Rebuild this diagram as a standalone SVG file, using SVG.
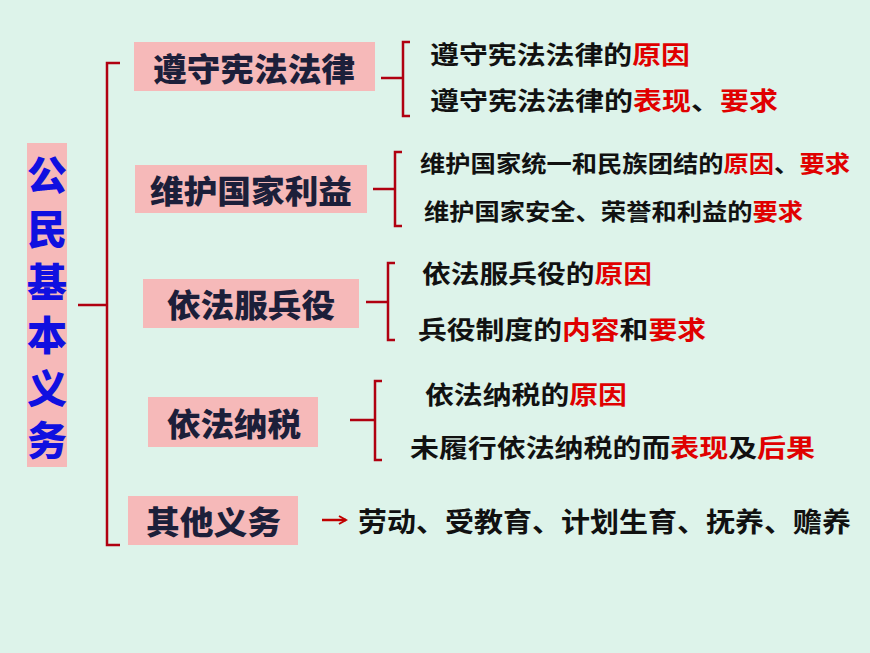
<svg xmlns="http://www.w3.org/2000/svg" width="870" height="653" viewBox="0 0 870 653">
<style>
.box{fill:#F6B9B9}
.bt{font-family:"Noto Sans CJK SC",sans-serif;font-weight:900;font-size:32px;fill:#1c1f3a;dominant-baseline:central}
.t{font-family:"Noto Sans CJK SC",sans-serif;font-weight:700;fill:#111;dominant-baseline:central}
.r{fill:#E00000}
.br{fill:none;stroke:#B00010;stroke-width:2.5}
</style>
<defs><marker id="ah" markerWidth="10" markerHeight="10" refX="8" refY="5" orient="auto" markerUnits="userSpaceOnUse"><path d="M1,1 L8,5 L1,9" fill="none" stroke="#C00000" stroke-width="2"/></marker></defs>
<rect width="870" height="653" fill="#DDF3EA"/>
<g id="root"><rect class="box" x="27" y="143" width="40" height="324"/>
<text font-family="Noto Sans CJK SC,sans-serif" font-weight="900" font-size="40" fill="#1010E0" text-anchor="middle" dominant-baseline="central"><tspan x="47" y="173">公</tspan><tspan x="47" y="227">民</tspan><tspan x="47" y="280">基</tspan><tspan x="47" y="333">本</tspan><tspan x="47" y="386">义</tspan><tspan x="47" y="438">务</tspan></text></g>
<g id="connectors">
<path class="br" d="M120,63 H107 V545 H120 M107,305 H78"/>
<path class="br" d="M410,42 H403 V116 H410 M403,78 H381"/>
<path class="br" d="M402,152 H395 V226 H402 M395,189 H373"/>
<path class="br" d="M395,263 H388 V340 H395 M388,302 H366"/>
<path class="br" d="M382,381 H375 V460 H382 M375,420 H350"/>
<line x1="322" y1="520" x2="346" y2="520" stroke="#C00000" stroke-width="2.5" marker-end="url(#ah)"/>
</g>
<g id="n1"><rect class="box" x="134" y="42" width="241" height="49"/><text class="bt" x="153" y="67" textLength="202" lengthAdjust="spacingAndGlyphs">遵守宪法法律</text></g>
<g id="n2"><rect class="box" x="135" y="165" width="232" height="48"/><text class="bt" x="150" y="189" textLength="202" lengthAdjust="spacingAndGlyphs">维护国家利益</text></g>
<g id="n3"><rect class="box" x="143" y="279" width="216" height="49"/><text class="bt" x="167" y="303" textLength="168" lengthAdjust="spacingAndGlyphs">依法服兵役</text></g>
<g id="n4"><rect class="box" x="148" y="397" width="170" height="50"/><text class="bt" x="167" y="422" textLength="134" lengthAdjust="spacingAndGlyphs">依法纳税</text></g>
<g id="n5"><rect class="box" x="128" y="496" width="170" height="49"/><text class="bt" x="146" y="520" textLength="135" lengthAdjust="spacingAndGlyphs">其他义务</text></g>
<g id="leaves">
<text class="t" x="430" y="53" font-size="25" textLength="260" lengthAdjust="spacingAndGlyphs">遵守宪法法律的<tspan class="r">原因</tspan></text>
<text class="t" x="430" y="99" font-size="25" textLength="348" lengthAdjust="spacingAndGlyphs">遵守宪法法律的<tspan class="r">表现</tspan>、<tspan class="r">要求</tspan></text>
<text class="t" x="420" y="162" font-size="23" textLength="430" lengthAdjust="spacingAndGlyphs">维护国家统一和民族团结的<tspan class="r">原因</tspan>、<tspan class="r">要求</tspan></text>
<text class="t" x="424" y="210" font-size="23" textLength="379" lengthAdjust="spacingAndGlyphs">维护国家安全、荣誉和利益的<tspan class="r">要求</tspan></text>
<text class="t" x="422" y="272" font-size="25" textLength="230" lengthAdjust="spacingAndGlyphs">依法服兵役的<tspan class="r">原因</tspan></text>
<text class="t" x="418" y="328" font-size="25" textLength="288" lengthAdjust="spacingAndGlyphs">兵役制度的<tspan class="r">内容</tspan>和<tspan class="r">要求</tspan></text>
<text class="t" x="425" y="393" font-size="25" textLength="202" lengthAdjust="spacingAndGlyphs">依法纳税的<tspan class="r">原因</tspan></text>
<text class="t" x="410" y="446" font-size="25" textLength="405" lengthAdjust="spacingAndGlyphs">未履行依法纳税的而<tspan class="r">表现</tspan>及<tspan class="r">后果</tspan></text>
<text class="t" x="358" y="520" font-size="27" textLength="493" lengthAdjust="spacingAndGlyphs">劳动、受教育、计划生育、抚养、赡养</text>
</g>
</svg>
